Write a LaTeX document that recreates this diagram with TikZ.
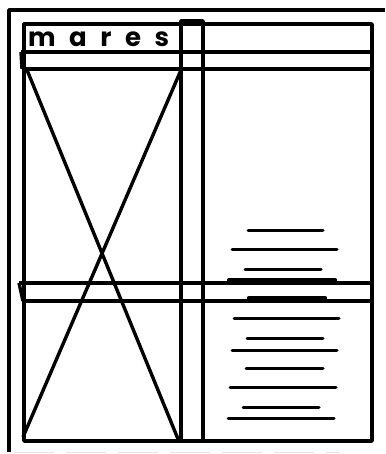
\documentclass[tikz,border=0pt]{standalone}
\usepackage{fontspec}
\newfontfamily\titlefont[LetterSpace=52]{Poppins}
\begin{document}
\begin{tikzpicture}[x=1pt,y=-1pt,
  frame/.style={line width=3.4pt, line join=round},
  rule/.style={line width=3pt, line cap=round},
  faint/.style={line width=1pt, gray!20}]
\useasboundingbox (0,0) rectangle (385,454);
% outer frame (top and left only)
\coordinate (o1) at (385,10);
\coordinate (o2) at (9,10);
\coordinate (o3) at (9,452);
\draw[frame] (o1) -- (o2) -- (o3);
% inner frame
\coordinate (iTL) at (24,24);
\coordinate (iBR) at (372,441);
\draw[frame] (iTL) rectangle (iBR);
% column
\coordinate (cTL) at (181,21);
\coordinate (cBR) at (203,441);
\draw[frame] (cTL) rectangle (cBR);
% title
\node[anchor=west, inner sep=0pt, font=\titlefont\fontsize{26}{26}\selectfont] (title) at (28,39) {\textbf{mares}};
% upper band
\coordinate (b1a) at (21,52);
\coordinate (b1b) at (372,52);
\coordinate (b1c) at (22,69);
\coordinate (b1d) at (372,69);
\draw[frame] (b1a) -- (b1b);
\draw[frame] (b1c) -- (b1d);
\draw[frame] (b1a) -- (b1c);
% lower band
\coordinate (b2a) at (19,283);
\coordinate (b2b) at (372,283);
\coordinate (b2c) at (23,301);
\coordinate (b2d) at (372,301);
\draw[frame] (b2a) -- (b2b);
\draw[frame] (b2c) -- (b2d);
\draw[frame] (b2a) -- (b2c);
% X cross
\coordinate (x1) at (27,70);
\coordinate (x2) at (178,439);
\coordinate (x3) at (181,70);
\coordinate (x4) at (23,437);
\draw[frame] (x1) -- (x2);
\draw[frame] (x3) -- (x4);
% text lines on the right panel
\foreach \xa/\xb/\yy/\w in {248/323/230/3, 232/337/249/3, 245/321/269/3, 229/335/280/4.2,
  249/325/298/4.2, 234/339/318/3, 247/323/338/3, 232/337/350/3, 246/323/368/3,
  230/336/387/3, 243/319/407/3, 228/334/418/3}{
  \coordinate (la) at (\xa,\yy);
  \coordinate (lb) at (\xb,\yy);
  \draw[rule, line width=\w pt] (la) -- (lb);
}
% faint scan marks at the bottom
\coordinate (f1) at (14,452);
\coordinate (f2) at (340,452);
\draw[faint, dash pattern=on 40pt off 12pt] (f1) -- (f2);
\end{tikzpicture}
\end{document}
